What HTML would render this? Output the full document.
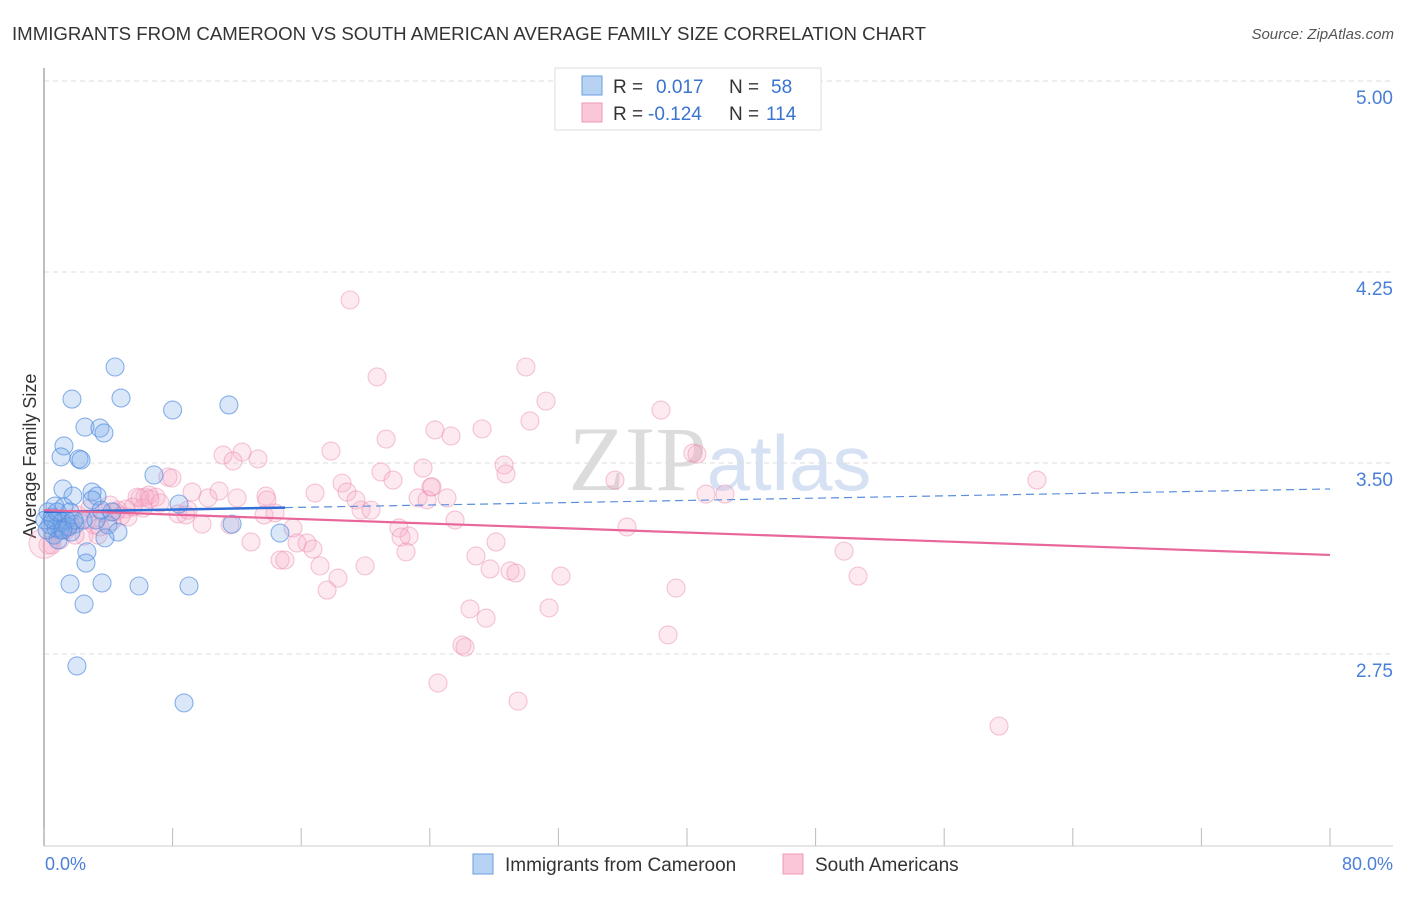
<!DOCTYPE html>
<html><head><meta charset="utf-8"><style>
body{margin:0;background:#fff;font-family:"Liberation Sans",sans-serif;}
</style></head><body>
<svg width="1406" height="892" xmlns="http://www.w3.org/2000/svg" style="font-family:'Liberation Sans',sans-serif">
<text x="12" y="40" font-size="18" fill="#333" textLength="914" lengthAdjust="spacingAndGlyphs">IMMIGRANTS FROM CAMEROON VS SOUTH AMERICAN AVERAGE FAMILY SIZE CORRELATION CHART</text>
<text x="1394" y="39" font-size="15" fill="#555" font-style="italic" text-anchor="end">Source: ZipAtlas.com</text>
<text x="720" y="490" font-size="92" fill="#ddd" text-anchor="middle" font-family="'Liberation Serif',serif"><tspan fill="#dcdcdc">ZIP</tspan><tspan fill="#d6e2f3" font-family="'Liberation Sans',sans-serif" font-size="78">atlas</tspan></text>
<g id="grid"></g>
<line x1="44" y1="68" x2="44" y2="846" stroke="#aaa" stroke-width="1.5"/>
<line x1="44" y1="846" x2="1393" y2="846" stroke="#ccc"/>
<g id="xticks"></g>
<text x="36" y="456" font-size="18" fill="#333" text-anchor="middle" transform="rotate(-90 36 456)">Average Family Size</text>
<text x="45" y="870" font-size="18" fill="#4a7fd8">0.0%</text>
<text x="1393" y="870" font-size="18" fill="#4a7fd8" text-anchor="end">80.0%</text>
<g id="pts"></g>
<g id="lines"></g>
<g>
<rect x="555" y="68" width="266" height="62" fill="#fff" stroke="#ddd"/>
<rect x="582" y="76" width="20" height="19" fill="#b8d2f4" stroke="#6a9ee0"/>
<rect x="582" y="103" width="20" height="19" fill="#fac6d8" stroke="#ec9ab8"/>
<text x="613" y="93" font-size="19" fill="#333">R =</text>
<text x="656" y="93" font-size="19" fill="#3a73d0">0.017</text>
<text x="729" y="93" font-size="19" fill="#333">N =</text>
<text x="771" y="93" font-size="19" fill="#3a73d0">58</text>
<text x="613" y="120" font-size="19" fill="#333">R =</text>
<text x="648" y="120" font-size="19" fill="#3a73d0">-0.124</text>
<text x="729" y="120" font-size="19" fill="#333">N =</text>
<text x="766" y="120" font-size="19" fill="#3a73d0">114</text>
</g>
<g>
<rect x="473" y="854" width="20" height="20" fill="#b8d2f4" stroke="#6a9ee0"/>
<text x="505" y="871" font-size="19" fill="#333">Immigrants from Cameroon</text>
<rect x="783" y="854" width="20" height="20" fill="#fac6d8" stroke="#ec9ab8"/>
<text x="815" y="871" font-size="19" fill="#333">South Americans</text>
</g>
</svg>
<script>
const yTicks=[5.00,4.25,3.50,2.75];
const yTickLabels=["5.00","4.25","3.50","2.75"];
const xTicks=[0,8,16,24,32,40,48,56,64,72,80];
const blueX=[4.42,1.74,4.79,8.0,11.5,2.55,3.48,3.73,1.24,1.06,2.18,2.30,6.84,1.18,2.99,3.30,1.80,8.40,0.68,1.24,1.62,2.99,0.50,1.12,1.93,2.43,1.00,0.62,3.98,11.70,14.68,4.60,3.79,2.67,2.61,1.62,3.61,5.91,9.02,2.49,2.05,8.71,0.25,0.37,0.75,1.37,1.68,0.87,0.06,0.19,0.56,1.49,1.87,3.23,4.23,3.55,1.18,0.81];
const blueY=[3.877,3.751,3.755,3.708,3.728,3.641,3.637,3.618,3.567,3.524,3.516,3.512,3.453,3.398,3.386,3.370,3.370,3.339,3.331,3.327,3.308,3.355,3.288,3.268,3.260,3.276,3.237,3.217,3.257,3.260,3.225,3.229,3.206,3.151,3.107,3.025,3.029,3.017,3.017,2.946,2.703,2.558,3.308,3.257,3.245,3.276,3.229,3.198,3.276,3.237,3.276,3.249,3.276,3.276,3.308,3.315,3.237,3.308];
const pinkX=[19.04,20.72,29.98,31.23,38.38,30.23,21.28,24.32,25.32,27.25,17.85,11.14,12.32,13.31,11.76,28.62,28.74,23.58,20.96,40.37,40.62,35.52,61.77,7.71,7.96,18.54,21.71,24.07,24.14,9.21,10.89,13.81,16.86,18.85,6.97,6.28,6.53,5.79,5.10,10.20,12.01,13.87,19.41,23.27,25.07,23.83,41.18,42.36,19.72,20.34,14.37,8.34,8.83,9.83,11.57,13.69,15.49,8.96,4.60,5.23,4.23,25.57,36.27,22.08,22.71,22.21,15.74,16.36,16.73,22.52,28.12,26.87,12.88,14.68,14.99,17.17,19.97,27.75,28.99,29.36,32.16,18.29,17.61,49.77,50.64,39.32,26.50,31.42,27.50,38.82,26.00,26.19,24.51,29.49,59.41,2.67,3.11,2.12,1.62,1.00,0.50,1.37,3.36,4.11,4.42,4.79,5.54,6.16,7.22,3.67,2.49,1.93,1.18,0.75,0.25,3.48,2.86,5.97,6.59,0.0];
const pinkY=[4.140,3.838,3.877,3.743,3.708,3.665,3.594,3.630,3.606,3.634,3.547,3.531,3.543,3.516,3.508,3.492,3.457,3.480,3.465,3.539,3.535,3.433,3.433,3.445,3.441,3.421,3.433,3.406,3.406,3.386,3.390,3.370,3.382,3.386,3.366,3.366,3.374,3.366,3.319,3.363,3.363,3.355,3.355,3.363,3.363,3.355,3.378,3.378,3.315,3.315,3.304,3.300,3.296,3.260,3.257,3.296,3.245,3.315,3.315,3.288,3.272,3.276,3.249,3.245,3.213,3.209,3.186,3.186,3.162,3.151,3.190,3.135,3.190,3.119,3.119,3.096,3.096,3.084,3.076,3.068,3.056,3.048,3.001,3.154,3.056,3.009,2.927,2.931,2.891,2.825,2.785,2.777,2.636,2.565,2.467,3.276,3.257,3.296,3.257,3.198,3.178,3.237,3.217,3.335,3.308,3.292,3.327,3.323,3.343,3.304,3.213,3.217,3.245,3.276,3.178,3.249,3.323,3.363,3.359,3.185];
const blueTrend=[3.308,3.398];
const pinkTrend=[3.315,3.139];
const NS='http://www.w3.org/2000/svg';
const sx=p=>44+p*(1286/80);
const sy=v=>463+(3.5-v)*254.67;
function mk(tag,attrs,parent){const e=document.createElementNS(NS,tag);for(const k in attrs)e.setAttribute(k,attrs[k]);document.getElementById(parent).appendChild(e);return e;}
yTicks.forEach((t,i)=>{
 const l=mk('line',{x1:44,x2:1393,y1:sy(t),y2:sy(t),stroke:'#ddd','stroke-dasharray':'5,4'},'grid');
 
 
 const tx=mk('text',{x:1393,y:sy(t)+23,'font-size':19,fill:'#4a7fd8','text-anchor':'end'},'grid');
 tx.textContent=yTickLabels[i];
 
 
});
xTicks.forEach(t=>{
 const l=mk('line',{x1:sx(t),x2:sx(t),y1:828,y2:846,stroke:'#bbb'},'xticks');
 
 
});
pinkX.forEach((x,i)=>{
 const c=mk('circle',{cx:sx(x),cy:sy(pinkY[i]),r:i==pinkX.length-1?15:9,fill:'rgba(246,170,198,0.25)',stroke:'rgba(236,140,178,0.5)','stroke-width':1.1},'pts');
 
 
});
blueX.forEach((x,i)=>{
 const c=mk('circle',{cx:sx(x),cy:sy(blueY[i]),r:9,fill:'rgba(120,168,232,0.28)',stroke:'rgba(80,138,222,0.65)','stroke-width':1.1},'pts');
 
 
});
const by=p=>blueTrend[0]+(blueTrend[1]-blueTrend[0])*p/80;
const py=p=>pinkTrend[0]+(pinkTrend[1]-pinkTrend[0])*p/80;
let l1=mk('line',{x1:sx(15),y1:sy(by(15)),x2:sx(80),y2:sy(by(80)),stroke:'#5b8fdd','stroke-width':1.2,'stroke-dasharray':'8,5'},'lines');


let l2=mk('line',{x1:sx(0),y1:sy(by(0)),x2:sx(15),y2:sy(by(15)),stroke:'#2f6fd6','stroke-width':2.5},'lines');


let l3=mk('line',{x1:sx(0),y1:sy(py(0)),x2:sx(80),y2:sy(py(80)),stroke:'#e8669a','stroke-width':2.2},'lines');


</script>
</body></html>
